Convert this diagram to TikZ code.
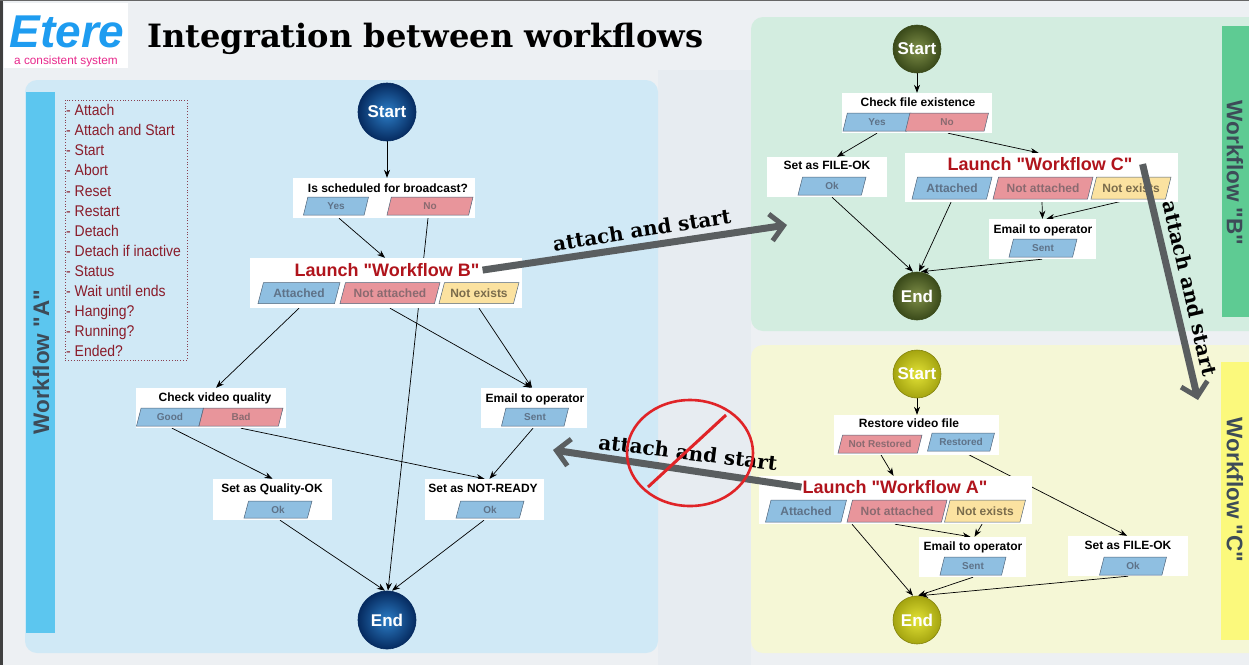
\documentclass[tikz,border=0pt]{standalone}
\usepackage{fontspec}
\setmainfont{Liberation Sans}
\newfontfamily\serifb{DejaVu Serif}
\newfontfamily\narrowf{Liberation Sans}[FakeStretch=0.9]
\usetikzlibrary{shapes.geometric,arrows.meta,calc}
\pgfdeclarelayer{bg}
\pgfdeclarelayer{edges}
\pgfsetlayers{bg,edges,main}
\newcommand{\qq}{\textquotedbl}
\definecolor{pageBg}{HTML}{EDF0F3}
\definecolor{midBg}{HTML}{E7ECF1}
\definecolor{panelA}{HTML}{D0E9F6}
\definecolor{barA}{HTML}{5CC6EF}
\definecolor{panelB}{HTML}{D3EDE0}
\definecolor{barB}{HTML}{5ECB93}
\definecolor{panelC}{HTML}{F5F7D6}
\definecolor{barC}{HTML}{FBF97C}
\definecolor{pblue}{HTML}{8FBFE1}
\definecolor{ppink}{HTML}{E8959B}
\definecolor{pyell}{HTML}{FBE2A0}
\definecolor{pgborder}{HTML}{50657A}
\definecolor{pbtext}{HTML}{5E7288}
\definecolor{pptext}{HTML}{8A6A70}
\definecolor{pytext}{HTML}{7A6C4C}
\definecolor{launchred}{HTML}{B0141C}
\definecolor{listred}{HTML}{8A1C2A}
\definecolor{listborder}{HTML}{8A4050}
\definecolor{bigg}{HTML}{5A5E60}
\definecolor{labtext}{HTML}{3D4B58}
\definecolor{blueIn}{HTML}{2C7DC6}
\definecolor{blueOut}{HTML}{062B60}
\definecolor{oliveIn}{HTML}{7F8F48}
\definecolor{oliveOut}{HTML}{3A4A1A}
\definecolor{yellIn}{HTML}{E2E236}
\definecolor{yellOut}{HTML}{A4A410}
\definecolor{etereblue}{HTML}{1E9CF0}
\definecolor{eterepink}{HTML}{E8288C}
\definecolor{prohred}{HTML}{E02428}
\begin{document}
\begin{tikzpicture}[x=1pt,y=-1pt,
  conn/.style={draw=black, line width=0.7pt, -{Stealth[length=8pt,width=6pt]}},
  big/.style={draw=bigg, line width=7pt, -{Straight Barb[length=13pt,width=27pt,line width=5pt]}},
  bigtext/.style={font=\serifb\bfseries\fontsize{20}{20}\selectfont, inner sep=0, anchor=base},
  wbox/.style={fill=white, draw=none, inner sep=0},
  ttl/.style={font=\bfseries\fontsize{12}{12}\selectfont, inner sep=0, anchor=base},
  lttl/.style={font=\bfseries\fontsize{18}{18}\selectfont, text=launchred, inner sep=0, anchor=base},
  pg/.style={trapezium, trapezium left angle=58, trapezium right angle=122, trapezium stretches body,
     draw=pgborder, line width=0.5pt, inner sep=0, minimum height=18pt,
     font=\bfseries\fontsize{10}{10}\selectfont},
  pgl/.style={pg, minimum height=21pt, font=\bfseries\fontsize{12}{12}\selectfont},
  pb/.style={fill=pblue, text=pbtext},
  pp/.style={fill=ppink, text=pptext},
  py/.style={fill=pyell, text=pytext},
  roundnode/.style={circle, inner sep=0, text=white, font=\bfseries\fontsize{17}{17}\selectfont},
  bluec/.style={roundnode, minimum size=58pt, inner color=blueIn, outer color=blueOut, draw=blueOut, line width=0.6pt},
  olivec/.style={roundnode, minimum size=48pt, inner color=oliveIn, outer color=oliveOut, draw=oliveOut, line width=0.6pt},
  yellc/.style={roundnode, minimum size=48pt, inner color=yellIn, outer color=yellOut, draw=yellOut!80!black, line width=0.6pt},
  wflabel/.style={font=\bfseries\fontsize{22.5}{23}\selectfont, text=labtext, inner sep=0},
  listitem/.style={font=\narrowf\fontsize{15.5}{15.5}\selectfont, text=listred, inner sep=0, anchor=base west}
]
\useasboundingbox (0,0) rectangle (1249,665);
\clip (0,0) rectangle (1249,665);

% ---------------- backgrounds ----------------
\begin{pgfonlayer}{bg}
\fill[pageBg] (0,0) rectangle (1249,665);
\fill[midBg] (658,70) rectangle (751,665);
\fill[black!75] (0,0) rectangle (3,665);
\fill[black!60] (0,0) rectangle (1249,1);
\fill[panelA, rounded corners=12pt] (25,80) rectangle (658,653);
\fill[barA] (26,92) rectangle (55,633);
\fill[panelB, rounded corners=12pt] (751,17) rectangle (1270,331);
\fill[barB] (1222,26) rectangle (1260,317);
\fill[panelC, rounded corners=12pt] (751,345) rectangle (1270,653);
\fill[barC] (1221,362) rectangle (1260,640);
\fill[white] (4,3) rectangle (128,68);
\draw[listborder, dotted, line width=0.8pt] (65,100) rectangle (187,360);
\end{pgfonlayer}

% ---------------- header ----------------
\node[font=\bfseries\itshape\fontsize{46}{46}\selectfont, text=etereblue, inner sep=0, anchor=base] (logo) at (67,47) {Etere};
\node[font=\fontsize{11.8}{12}\selectfont, text=eterepink, inner sep=0, anchor=base] (slogan) at (66,64) {a consistent system};
\node[inner sep=0, anchor=base west] (title) at (147,47)
  {\resizebox{556pt}{!}{\serifb\bfseries\fontsize{30}{30}\selectfont Integration between workflows}};

% ---------------- workflow labels ----------------
\node[wflabel, rotate=90] (wfA) at (41,362) {Workflow \qq A\qq};
\node[wflabel, rotate=-90] (wfB) at (1235,173) {Workflow \qq B\qq};
\node[wflabel, rotate=-90] (wfC) at (1235,490) {Workflow \qq C\qq};

% ---------------- list ----------------
\foreach \t [count=\i] in {Attach, Attach and Start, Start, Abort, Reset, Restart, Detach,
  Detach if inactive, Status, Wait until ends, Hanging?, Running?, Ended?}
  \node[listitem] (li\i) at (66,{115.7+20.08*(\i-1)}) {- \t};

% ================= Workflow A =================
\node[bluec] (sA) at (387,112) {Start};
\node[bluec] (eA) at (387,620) {End};

\node[wbox, minimum width=182pt, minimum height=40pt] (bQ) at (384,198) {};
\node[ttl] (tQ) at (388,192.3) {Is scheduled for broadcast?};
\node[pg, pb, minimum width=65pt] (yesA) at (336,206) {Yes};
\node[pg, pp, minimum width=86pt] (noA) at (430,206) {No};

\node[wbox, minimum width=272pt, minimum height=50pt] (bLB) at (386,283) {};
\node[lttl] (tLB) at (387,276.5) {Launch \qq Workflow B\qq};
\node[pgl, pb, minimum width=82pt] (atB) at (299,293) {Attached};
\node[pgl, pp, minimum width=100pt] (natB) at (390,293) {Not attached};
\node[pgl, py, minimum width=80pt] (nexB) at (479,293) {Not exists};

\node[wbox, minimum width=150pt, minimum height=40pt] (bCV) at (211,408) {};
\node[ttl] (tCV) at (215,401.3) {Check video quality};
\node[pg, pb, minimum width=67pt] (goodA) at (170,417) {Good};
\node[pg, pp, minimum width=84pt] (badA) at (241,417) {Bad};

\node[wbox, minimum width=106pt, minimum height=40pt] (bEA) at (534,408) {};
\node[ttl] (tEA) at (535,402.3) {Email to operator};
\node[pg, pb, minimum width=67pt] (sentA) at (535,417) {Sent};

\node[wbox, minimum width=119pt, minimum height=41pt] (bQO) at (272.5,499.5) {};
\node[ttl] (tQO) at (272,492.3) {Set as Quality-OK};
\node[pg, pb, minimum width=68pt, minimum height=17pt] (okQ) at (278,509.5) {Ok};

\node[wbox, minimum width=119pt, minimum height=41pt] (bNR) at (484.5,499.5) {};
\node[ttl] (tNR) at (483,492.3) {Set as NOT-READY};
\node[pg, pb, minimum width=68pt, minimum height=17pt] (okNR) at (490,509.5) {Ok};

% ================= Workflow B =================
\node[olivec] (sB) at (917,49) {Start};
\node[olivec] (eB) at (917,296) {End};

\node[wbox, minimum width=150pt, minimum height=40pt] (bCF) at (917,113) {};
\node[ttl] (tCF) at (918,106.3) {Check file existence};
\node[pg, pb, minimum width=68pt] (yesB) at (877,122) {Yes};
\node[pg, pp, minimum width=83pt] (noB) at (947,122) {No};

\node[wbox, minimum width=120pt, minimum height=40pt] (bFB) at (827,177) {};
\node[ttl] (tFB) at (827,169.3) {Set as FILE-OK};
\node[pg, pb, minimum width=68pt] (okFB) at (832,186) {Ok};

\node[wbox, minimum width=273pt, minimum height=49pt] (bLC) at (1041.5,177.5) {};
\node[lttl] (tLC) at (1040,170.5) {Launch \qq Workflow C\qq};
\node[pgl, pb, minimum width=80pt, minimum height=22pt] (atC) at (952,188) {Attached};
\node[pgl, pp, minimum width=100pt, minimum height=22pt] (natC) at (1043,188) {Not attached};
\node[pgl, py, minimum width=80pt, minimum height=22pt] (nexC) at (1131,188) {Not exists};

\node[wbox, minimum width=107pt, minimum height=40pt] (bEB) at (1042.5,239) {};
\node[ttl] (tEB) at (1043,233.3) {Email to operator};
\node[pg, pb, minimum width=68pt] (sentB) at (1043,248) {Sent};

% ================= Workflow C =================
\node[yellc] (sC) at (917,374) {Start};
\node[yellc] (eC) at (917,620) {End};

\node[wbox, minimum width=165pt, minimum height=40pt] (bRV) at (916.5,435) {};
\node[ttl] (tRV) at (909,427.3) {Restore video file};
\node[pg, pp, minimum width=84pt] (nrC) at (880,444) {Not Restored};
\node[pg, pb, minimum width=67pt] (rC) at (961,442) {Restored};

\node[wbox, minimum width=273pt, minimum height=48pt] (bLA) at (895.5,500) {};
\node[lttl] (tLA) at (895,493.5) {Launch \qq Workflow A\qq};
\node[pgl, pb, minimum width=81pt, minimum height=22pt] (atA) at (806,511) {Attached};
\node[pgl, pp, minimum width=100pt, minimum height=22pt] (natA) at (897,511) {Not attached};
\node[pgl, py, minimum width=81pt, minimum height=22pt] (nexA) at (985,511) {Not exists};

\node[wbox, minimum width=107pt, minimum height=40pt] (bEC) at (972.5,557) {};
\node[ttl] (tEC) at (973,550.3) {Email to operator};
\node[pg, pb, minimum width=66pt] (sentC) at (973,566) {Sent};

\node[wbox, minimum width=120pt, minimum height=40pt] (bFC) at (1128,556) {};
\node[ttl] (tFC) at (1128,549.3) {Set as FILE-OK};
\node[pg, pb, minimum width=67pt] (okFC) at (1133,566) {Ok};

% ---------------- connectors ----------------
\begin{pgfonlayer}{edges}
% A
\draw[conn] (sA.south) -- (sA.south |- bQ.north);
\draw[conn] ([xshift=3pt]yesA.south |- bQ.south) -- ([xshift=-1pt]bLB.north);
\draw[conn] ([xshift=-2pt]noA.south |- bQ.south) -- ([xshift=1pt]eA.north);
\draw[conn] (atB.south |- bLB.south) -- ([xshift=5pt]bCV.north);
\draw[conn] (natB.south |- bLB.south) -- ([xshift=-3pt]bEA.north);
\draw[conn] (nexB.south |- bLB.south) -- ([xshift=-2pt]bEA.north);
\draw[conn] ([xshift=2pt]goodA.south |- bCV.south) -- (bQO.north);
\draw[conn] (badA.south |- bCV.south) -- (bNR.north);
\draw[conn] ([xshift=-2pt]sentA.south |- bEA.south) -- ([xshift=5pt]bNR.north);
\draw[conn] ([xshift=2pt]okQ.south |- bQO.south) -- ([xshift=-2pt]eA.north);
\draw[conn] ([xshift=-6pt]okNR.south |- bNR.south) -- ([xshift=5pt]eA.north);
% B
\draw[conn] (sB.south) -- (sB.south |- bCF.north);
\draw[conn] (yesB.south |- bCF.south) -- ([xshift=10pt]bFB.north);
\draw[conn] ([xshift=1pt]noB.south |- bCF.south) -- ([xshift=-3pt]bLC.north);
\draw[conn] (okFB.south |- bFB.south) -- ([xshift=-4pt]eB.north);
\draw[conn] ([xshift=-1pt]atC.south |- bLC.south) -- ([xshift=2pt]eB.north);
\draw[conn] ([xshift=-1pt]natC.south |- bLC.south) -- (bEB.north);
\draw[conn] ([xshift=-1pt]nexC.south) -- ([xshift=4pt]bEB.north);
\draw[conn] ([xshift=-1pt]sentB.south |- bEB.south) -- ([xshift=4pt]eB.north);
% C
\draw[conn] (sC.south) -- (sC.south |- bRV.north);
\draw[conn] (nrC.south) -- ([xshift=-2pt]bLA.north);
\draw[conn] ([xshift=1pt]rC.south) -- ([xshift=-1pt]bFC.north);
\draw[conn] ([xshift=-2pt]natA.south |- bLA.south) -- ([xshift=-2pt]bEC.north);
\draw[conn] ([xshift=-3pt]nexA.south |- bLA.south) -- ([xshift=2pt]bEC.north);
\draw[conn] ([xshift=-45pt]natA.south |- bLA.south) -- ([xshift=-4pt]eC.north);
\draw[conn] (sentC.south |- bEC.south) -- ([xshift=1pt]eC.north);
\draw[conn] ([xshift=-5pt]okFC.south |- bFC.south) -- ([xshift=3pt]eC.north);
\end{pgfonlayer}

% ---------------- big arrows ----------------
\coordinate (tipB) at (787,225);
\coordinate (tipC) at (1198,400);
\coordinate (tipA) at (553,450);
\draw[big] ([xshift=3pt]tLB.east) -- (tipB);
\draw[big] ([xshift=10pt]tLC.east) -- (tipC);
\draw[big] ([xshift=-1pt]tLA.west) -- (tipA);
\node[bigtext, rotate=9] (lblAB) at (643,237) {attach and start};
\node[bigtext, rotate=-77] (lblBC) at (1183,290) {attach and start};
\node[bigtext, rotate=-7] (lblCA) at (687,460) {attach and start};

% prohibition sign
\node[ellipse, draw=prohred, line width=2.6pt, minimum width=126pt, minimum height=106pt, inner sep=0] (proh) at (690,453) {};
\draw[prohred, line width=3pt] ([xshift=-42pt,yshift=-34pt]proh.center) -- ([xshift=36pt,yshift=38pt]proh.center);
\end{tikzpicture}
\end{document}
